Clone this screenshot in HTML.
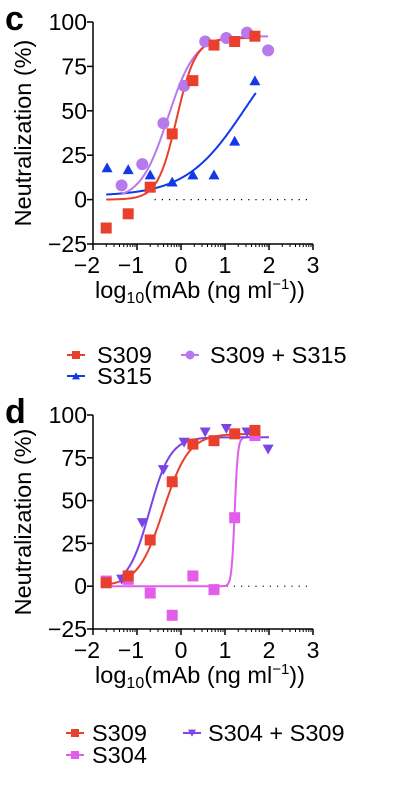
<!DOCTYPE html>
<html><head><meta charset="utf-8"><style>
body{margin:0;background:#fff;}
svg{display:block;font-family:"Liberation Sans",Arial,sans-serif;}
</style></head><body>
<svg id="fig" width="404" height="788" viewBox="0 0 404 788"></svg>
<script>
// ---- Panel c data ----
const cXS309 = [-1.7,-1.2,-0.7,-0.2,0.27,0.75,1.22,1.68];
const cS309 = [-16,-8,7,37,67,87,89,92];
const cXS315 = [-1.68,-1.2,-0.7,-0.2,0.27,0.75,1.22,1.68];
const cS315 = [18,17,14,10,14,14,33,67];
const cXCombo = [-1.35,-0.88,-0.4,0.07,0.55,1.03,1.5,1.98];
const cCombo = [8,20,43,64,89,91,94,84];
// fit params: [bottom, top, logEC50, hill, xmin, xmax]
const cFitS309 = [0,91,-0.1,2.0,-1.7,1.7];
const cFitS315 = [2,100,1.45,0.65,-1.7,1.7];
const cFitCombo = [0,92,-0.3,1.4,-1.35,1.98];
// ---- Panel d data ----
const dXS309 = [-1.7,-1.2,-0.7,-0.2,0.27,0.75,1.22,1.68];
const dS309 = [2,6,27,61,83,85,89,91];
const dXS304 = [-1.7,-1.2,-0.7,-0.2,0.27,0.75,1.22,1.68];
const dS304 = [3,4,-4,-17,6,-2,40,88];
const dXCombo = [-1.35,-0.88,-0.4,0.07,0.55,1.03,1.5,1.98];
const dCombo = [4,37,68,84,90,92,90,80];
const dFitS309 = [0,89,-0.4,1.5,-1.7,1.7];
const dFitS304 = [0,87,1.22,12,-1.7,1.68];
const dFitCombo = [0,87,-0.72,1.8,-1.35,2.0];
// ---- axes ----
const yTicks = [100,75,50,25,0,-25];
const xTicks = [-2,-1,0,1,2,3];

const NS="http://www.w3.org/2000/svg";
const svg=document.getElementById('fig');
function mk(tag,attrs,parent){const e=document.createElementNS(NS,tag);for(const k in attrs)e.setAttribute(k,attrs[k]);(parent||svg).appendChild(e);return e;}
function sig(p,x){return p[0]+(p[1]-p[0])/(1+Math.pow(10,(p[2]-x)*p[3]));}

function panel(oy,y100,yM25,letter,series,legend){
  const g=mk('g',{});
  
  
  const x0=93,x1=313;
  const X=v=>x0+(v+2)*(x1-x0)/5;
  const Y=v=>y100+(100-v)*(yM25-y100)/125;
  const L=mk('text',{x:5,y:y100+8,'font-size':34,'font-weight':'bold'},g);L.textContent=letter;
  
  
  const ya=mk('line',{x1:x0,y1:y100,x2:x0,y2:yM25,stroke:'#000','stroke-width':1.5},g);
  
  
  yTicks.forEach(t=>{
    mk('line',{x1:x0-6,y1:Y(t),x2:x0,y2:Y(t),stroke:'#000','stroke-width':1.5},g);
    const tx=mk('text',{x:x0-6,y:Y(t)+8,'font-size':23,'text-anchor':'end'},g);
    tx.textContent=t<0?'\u2212'+(-t):t;
    
    
  });
  const xa=mk('line',{x1:x0,y1:yM25,x2:x1,y2:yM25,stroke:'#000','stroke-width':1.5},g);
  
  
  xTicks.forEach(t=>{
    mk('line',{x1:X(t),y1:yM25,x2:X(t),y2:yM25+6,stroke:'#000','stroke-width':1.5},g);
    if(t<3)for(let k=2;k<10;k++){const m=X(t+Math.log10(k));mk('line',{x1:m,y1:yM25,x2:m,y2:yM25+3,stroke:'#000','stroke-width':1},g);}
    const tx=mk('text',{x:X(t)-(t<0?6:0),y:yM25+29,'font-size':23,'text-anchor':'middle'},g);
    tx.textContent=t<0?'\u2212'+(-t):t;
    
    
  });
  mk('line',{x1:X(-0.6),y1:Y(0),x2:X(3),y2:Y(0),stroke:'#000','stroke-width':1.2,'stroke-dasharray':'1.2 6'},g);
  const yt=mk('text',{transform:`translate(31,${(y100+yM25)/2}) rotate(-90)`,'font-size':23.5,'text-anchor':'middle'},g);
  yt.textContent='Neutralization (%)';
  
  
  const xt=mk('text',{x:200,y:yM25+54,'font-size':23.5,'text-anchor':'middle'},g);
  xt.innerHTML='log<tspan font-size="16" dy="5">10</tspan><tspan dy="-5">(mAb (ng ml</tspan><tspan font-size="15" dy="-9">\u22121</tspan><tspan dy="9">))</tspan>';
  
  
  series.forEach(s=>{
    let d='';for(let i=0;i<=200;i++){const x=s.fit[4]+(s.fit[5]-s.fit[4])*i/200;d+=(i?'L':'M')+X(x).toFixed(2)+' '+Y(sig(s.fit,x)).toFixed(2);}
    const p=mk('path',{d:d,fill:'none',stroke:s.color,'stroke-width':2},g);
    
    
  });
  series.forEach(s=>{
    s.xs.forEach((xv,i)=>{
      const m=marker(s.shape,X(xv),Y(s.ys[i]),s.color,g,11);
      
      
    });
  });
  legend.forEach(l=>{
    const lg=mk('g',{},g);
    
    
    mk('line',{x1:l.x,y1:l.y,x2:l.x+18,y2:l.y,stroke:l.s.color,'stroke-width':2},lg);
    marker(l.s.shape,l.x+9,l.y,l.s.color,lg,8);
    const t=mk('text',{x:l.tx,y:l.y+8,'font-size':23.5},lg);t.textContent=l.label;
  });
}
function marker(shape,x,y,c,g,s){
  const h=s/2;
  if(shape==='sq')return mk('rect',{x:x-h,y:y-h,width:s,height:s,fill:c},g);
  if(shape==='ci')return mk('circle',{cx:x,cy:y,r:h+0.5,fill:c},g);
  if(shape==='tu')return mk('polygon',{points:`${x-h},${y+h*0.85} ${x+h},${y+h*0.85} ${x},${y-h*0.95}`,fill:c},g);
  return mk('polygon',{points:`${x-h},${y-h*0.85} ${x+h},${y-h*0.85} ${x},${y+h*0.95}`,fill:c},g);
}
const red='#e8402c',blue='#1238e8',lil='#b879ec',mag='#e25de9',vio='#7a45e6';
const cS={name:'s309',xs:cXS309,ys:cS309,fit:cFitS309,color:red,shape:'sq'};
const cB={name:'s315',xs:cXS315,ys:cS315,fit:cFitS315,color:blue,shape:'tu'};
const cC={name:'s309-s315',xs:cXCombo,ys:cCombo,fit:cFitCombo,color:lil,shape:'ci'};
panel(0,22,244,'c',[cB,cC,cS],[{s:cS,x:67,tx:97,y:355,label:'S309'},{s:cC,x:181,tx:210,y:355,label:'S309 + S315'},{s:cB,x:67,tx:97,y:376,label:'S315'}]);
const dS={name:'s309',xs:dXS309,ys:dS309,fit:dFitS309,color:red,shape:'sq'};
const dM={name:'s304',xs:dXS304,ys:dS304,fit:dFitS304,color:mag,shape:'sq'};
const dC={name:'s304-s309',xs:dXCombo,ys:dCombo,fit:dFitCombo,color:vio,shape:'td'};
panel(390,415,629,'d',[dM,dC,dS],[{s:dS,x:66,tx:92,y:733,label:'S309'},{s:dC,x:183,tx:208,y:733,label:'S304 + S309'},{s:dM,x:66,tx:92,y:755,label:'S304'}]);
</script>
</body></html>
